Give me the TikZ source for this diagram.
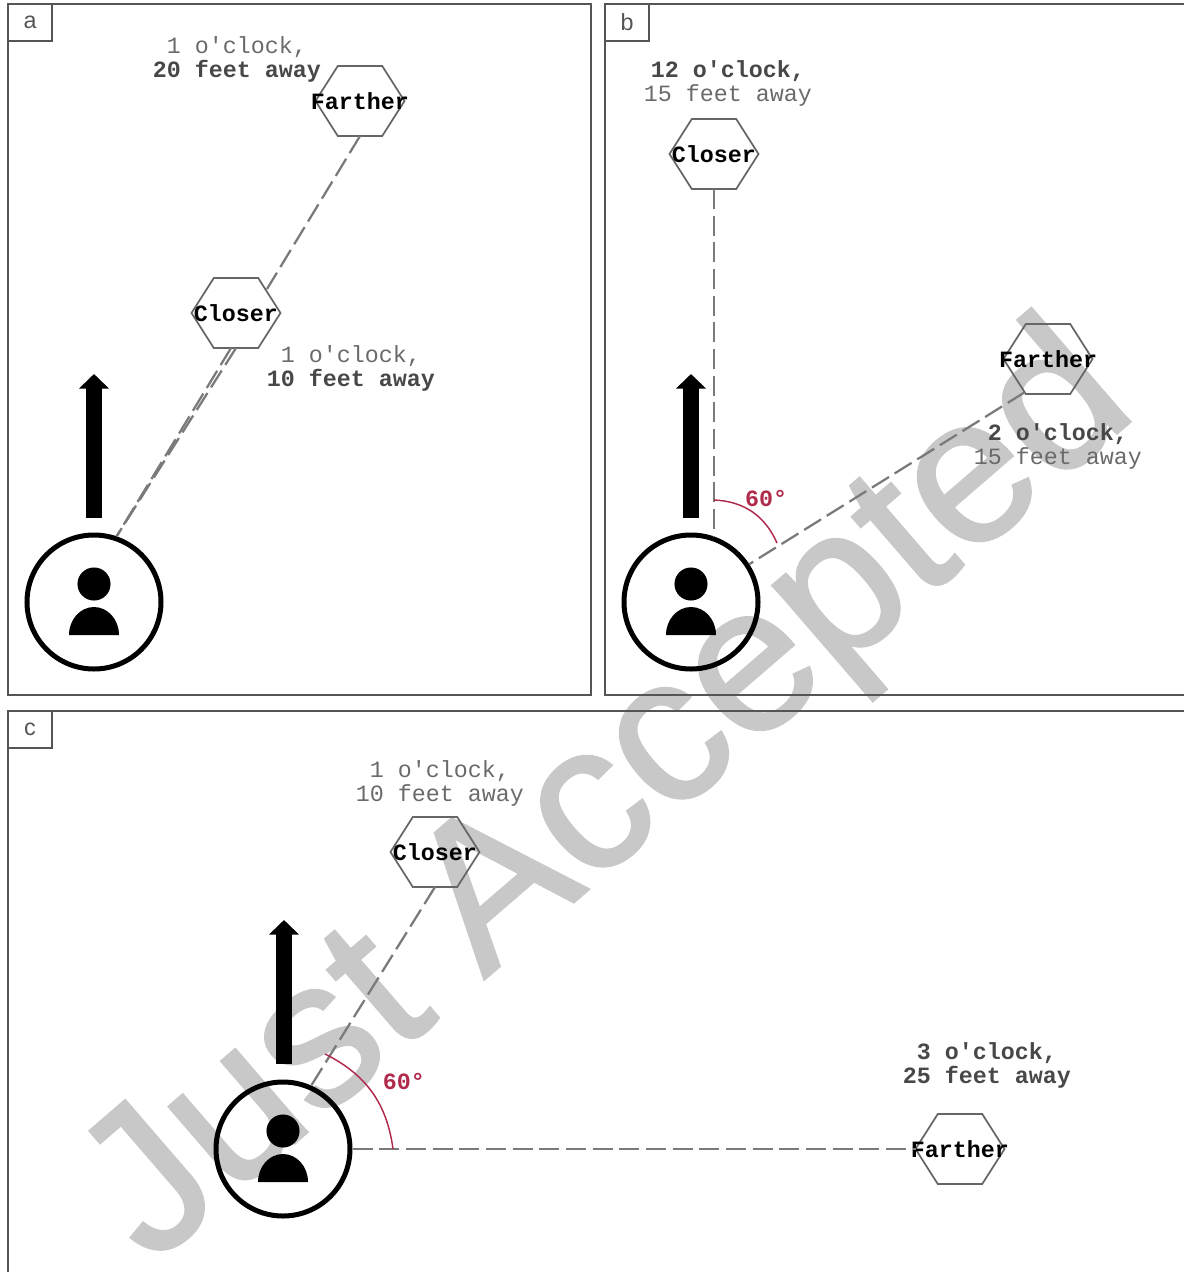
\documentclass[tikz,border=0pt]{standalone}
\usepackage{fontspec}
\setmainfont{Liberation Sans}
\setmonofont{Liberation Mono}
\newfontfamily\markfont[FakeBold=1.2]{Liberation Sans}
\usepackage{tikz}
\usetikzlibrary{positioning,shapes.symbols,arrows.meta}
\usepackage{xcolor}
\definecolor{panelGrey}{HTML}{555555}
\definecolor{dashGrey}{HTML}{7A7A7A}
\definecolor{hexGrey}{HTML}{666666}
\definecolor{softGrey}{HTML}{6A6A6A}
\definecolor{hardGrey}{HTML}{484848}
\definecolor{markGrey}{HTML}{C8C8C8}
\definecolor{angleRed}{HTML}{B02A4C}
\newcommand{\softline}[1]{\textcolor{softGrey}{#1}}
\newcommand{\hardline}[1]{\textcolor{hardGrey}{\bfseries #1}}
\tikzset{
  panel/.style={draw=panelGrey,line width=1.5pt},
  tagbox/.style={draw=panelGrey,line width=1.2pt,fill=white,minimum width=33pt,minimum height=27.75pt,inner sep=0pt,font=\fontsize{17.5}{18}\selectfont,text=panelGrey},
  hexbox/.style={signal,signal to=east and west,signal pointer angle=115,draw=hexGrey,line width=1.3pt,minimum width=66.75pt,minimum height=52.5pt,inner sep=0pt,outer sep=0pt,font=\ttfamily\bfseries\fontsize{17.5}{18}\selectfont},
  distlabel/.style={align=center,inner sep=0pt,font=\ttfamily\fontsize{17.5}{18}\selectfont},
  sightline/.style={draw=dashGrey,line width=1.7pt,dash pattern=on 15pt off 5pt},
  headarrow/.style={line width=11.5pt,-{Triangle[width=22pt,length=11pt]}},
  anglearc/.style={draw=angleRed,line width=1.1pt},
  anglelabel/.style={text=angleRed,inner sep=0pt,font=\ttfamily\bfseries\fontsize{17.5}{18}\selectfont},
  usernode/.style={circle,draw=black,line width=3.75pt,minimum size=100.5pt,inner sep=0pt}
}
\begin{document}
\begin{tikzpicture}[x=0.75pt,y=-0.75pt]
\useasboundingbox (0,0) rectangle (1183,1272);
% watermark goes under everything
\node[rotate=40.8,text=markGrey,inner sep=0pt,font=\markfont\fontsize{156}{160}\selectfont] (mark) at (611,799) {Just Accepted};
% panels
\draw[panel] (8,4) rectangle (591,695);
\draw[panel] (1190,4) -- (605,4) -- (605,695) -- (1190,695);
\draw[panel] (1190,711) -- (8,711) -- (8,1280);
\node[tagbox] (taga) at (30,22.5) {a};
\node[tagbox] (tagb) at (627,22.5) {b};
\node[tagbox] (tagc) at (30,729.5) {c};
% user icon in each panel
\foreach \ux/\uy/\uname in {94/602/usera,691/602/userb,283/1149/userc}{
  \node[usernode] (\uname) at (\ux,\uy) {};
  \fill (\ux,\uy-18) circle (12.4pt);
  \fill (\ux-25,\uy+33) arc (180:0:18.75pt and 21pt) -- cycle;
}
% panel a
\node[hexbox] (fara) at (360,101) {\makebox[0pt]{Farther}};
\node[hexbox] (closea) at (236,313) {\makebox[0pt]{Closer}};
\coordinate (hitao) at (267,289);
\coordinate (hitai) at (231,348);
\coordinate (heada) at (94,374);
\coordinate (taila) at (94,518);
\draw[sightline] (fara.south) -- (hitao);
\draw[sightline] (hitai) -- (usera.71);
\draw[sightline] (closea.south) -- (usera.71);
\draw[headarrow] (taila) -- (heada);
\node[distlabel] (lblfara) at (237,59) {\softline{1 o'clock,}\\\hardline{20 feet away}};
\node[distlabel] (lblclosea) at (351,368) {\softline{1 o'clock,}\\\hardline{10 feet away}};
% panel b
\node[hexbox] (closeb) at (714,154) {\makebox[0pt]{Closer}};
\node[hexbox] (farb) at (1048,359) {\makebox[0pt]{Farther}};
\coordinate (headb) at (691,374);
\coordinate (tailb) at (691,518);
\coordinate (lineb) at (714,537);
\coordinate (arcb) at (714,500);
\coordinate (arcendb) at (777,543);
\draw[sightline] (closeb.south) -- (lineb);
\draw[sightline] (farb.-125) -- (userb.33);
\draw[headarrow] (tailb) -- (headb);
\draw[anglearc] (arcb) to[bend left=32] (arcendb);
\node[anglelabel] (angb) at (766,498) {60°};
\node[distlabel] (lblcloseb) at (728,83) {\hardline{12 o'clock,}\\\softline{15 feet away}};
\node[distlabel] (lblfarb) at (1058,446) {\hardline{2 o'clock,}\\\softline{15 feet away}};
% panel c
\node[hexbox] (closec) at (435,852) {\makebox[0pt]{Closer}};
\node[hexbox] (farc) at (960,1149) {\makebox[0pt]{Farther}};
\coordinate (headc) at (284,920);
\coordinate (tailc) at (284,1064);
\coordinate (arcc) at (325,1054);
\coordinate (arcendc) at (393,1149);
\draw[sightline] (closec.south) -- (userc.66);
\draw[sightline] (userc.east) -- (farc.west);
\draw[headarrow] (tailc) -- (headc);
\draw[anglearc] (arcc) to[bend left=28] (arcendc);
\node[anglelabel] (angc) at (404,1081) {60°};
\node[distlabel] (lblclosec) at (440,783) {\softline{1 o'clock,}\\\softline{10 feet away}};
\node[distlabel] (lblfarc) at (987,1065) {\hardline{3 o'clock,}\\\hardline{25 feet away}};
\end{tikzpicture}
\end{document}
